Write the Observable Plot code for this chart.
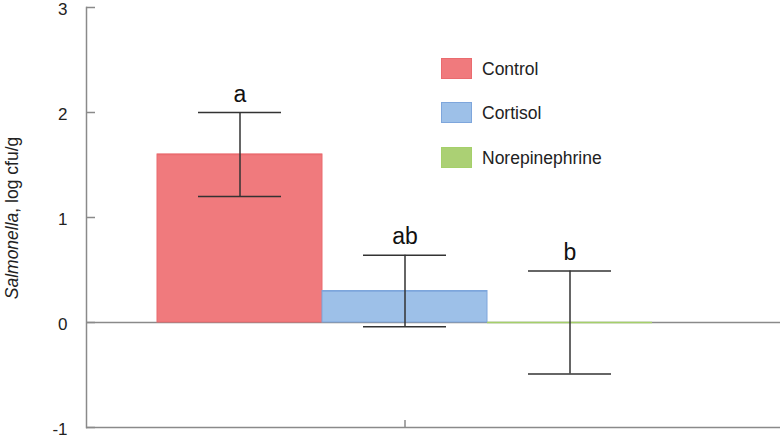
<!DOCTYPE html>
<html>
<head>
<meta charset="utf-8">
<script src="https://cdn.jsdelivr.net/npm/d3@7"></script>
<script src="https://cdn.jsdelivr.net/npm/@observablehq/plot@0.6"></script>
<style>
  html, body { margin: 0; padding: 0; background: #fff; }
  #wrap { position: relative; width: 780px; height: 438px; font-family: Arial, "Liberation Sans", sans-serif; }
  .legend { position: absolute; left: 441px; top: 58px; }
  .item { position: absolute; left: 0; white-space: nowrap; font-size: 17.5px; color: #222; }
  .sw { position: absolute; left: 0; top: 0; width: 31px; height: 21px; box-sizing: border-box; }
  .lab { position: absolute; left: 41px; top: 3px; line-height: 17px; }
</style>
</head>
<body>
<div id="wrap"></div>
<script>
const groups = ["Control", "Cortisol", "Norepinephrine"];
const means = [1.6, 0.3, 0.0];
const lower = [1.2, -0.04, -0.49];
const upper = [2.0, 0.64, 0.49];
const letters = ["a", "ab", "b"];
const fills = ["#f07a7d", "#9dc0e8", "#abd074"];
const strokes = ["#ea6b6f", "#7ea6dc", "#a5d06a"];
const yTicks = [-1, 0, 1, 2, 3];

const data = groups.map((g, i) => ({group: g, value: means[i], lo: lower[i], hi: upper[i], letter: letters[i], fill: fills[i], stroke: strokes[i]}));

const axisGray = "#8a8a8a";
const errColor = "#333";

const chart = Plot.plot({
  width: 780,
  height: 438,
  marginLeft: 86,
  marginRight: 0,
  marginTop: 7,
  marginBottom: 11,
  style: {fontFamily: "Arial, 'Liberation Sans', sans-serif", background: "#fff", overflow: "visible"},
  x: {domain: groups, range: [157, 652], padding: 0},
  y: {domain: [-1, 3]},
  marks: [
    Plot.ruleY([0], {stroke: axisGray, strokeWidth: 1.5}),
    Plot.barY(data, {x: "group", y: "value", fill: d => d.fill, stroke: d => d.stroke, strokeWidth: 1}),
    Plot.tickY(data, {x: "group", y: "value", stroke: d => d.stroke, strokeWidth: 1.5}),
    Plot.ruleX(data, {x: "group", y1: "lo", y2: "hi", stroke: errColor, strokeWidth: 1.5}),
    Plot.tickY(data, {x: "group", y: "lo", stroke: errColor, strokeWidth: 1.5, insetLeft: 41, insetRight: 41}),
    Plot.tickY(data, {x: "group", y: "hi", stroke: errColor, strokeWidth: 1.5, insetLeft: 41, insetRight: 41}),
    Plot.text(data, {x: "group", y: "hi", text: "letter", dy: -11, lineAnchor: "bottom", fontSize: 23, fill: "#111"}),
    Plot.ruleY([-1], {stroke: axisGray, strokeWidth: 1.5}),
    Plot.frame({anchor: "left", stroke: axisGray, strokeWidth: 1.5}),
    // inward tick marks
    Plot.axisY({ticks: yTicks, tickSize: 9, dx: 9, stroke: axisGray, strokeWidth: 1.5, tickFormat: () => "", label: null}),
    // tick labels
    Plot.axisY({ticks: yTicks, tickSize: 0, tickPadding: 19, fontSize: 17, fill: "#222", dy: 2, label: null, tickFormat: d => String(d)}),
    Plot.axisX({ticks: ["Cortisol"], tickSize: 7, dy: -7, tickFormat: () => "", stroke: axisGray, strokeWidth: 1.5, label: null})
  ]
});

const wrap = document.getElementById("wrap");
wrap.appendChild(chart);

// y-axis title with italic genus
const svg = d3.select(chart);
const t = svg.append("text")
  .attr("transform", "translate(18,218) rotate(-90)")
  .attr("text-anchor", "middle")
  .attr("font-size", 17.5)
  .attr("fill", "#222")
  .attr("font-family", "Arial, 'Liberation Sans', sans-serif");
t.append("tspan").attr("font-style", "italic").text("Salmonella");
t.append("tspan").text(", log cfu/g");

// legend
const legend = document.createElement("div");
legend.className = "legend";
const offsets = [0, 44, 89];
groups.forEach((g, i) => {
  const item = document.createElement("div");
  item.className = "item";
  item.style.top = offsets[i] + "px";
  const sw = document.createElement("div");
  sw.className = "sw";
  sw.style.background = fills[i];
  sw.style.border = "1px solid " + strokes[i];
  const lab = document.createElement("div");
  lab.className = "lab";
  lab.textContent = g;
  item.appendChild(sw);
  item.appendChild(lab);
  legend.appendChild(item);
});
wrap.appendChild(legend);
</script>
</body>
</html>
